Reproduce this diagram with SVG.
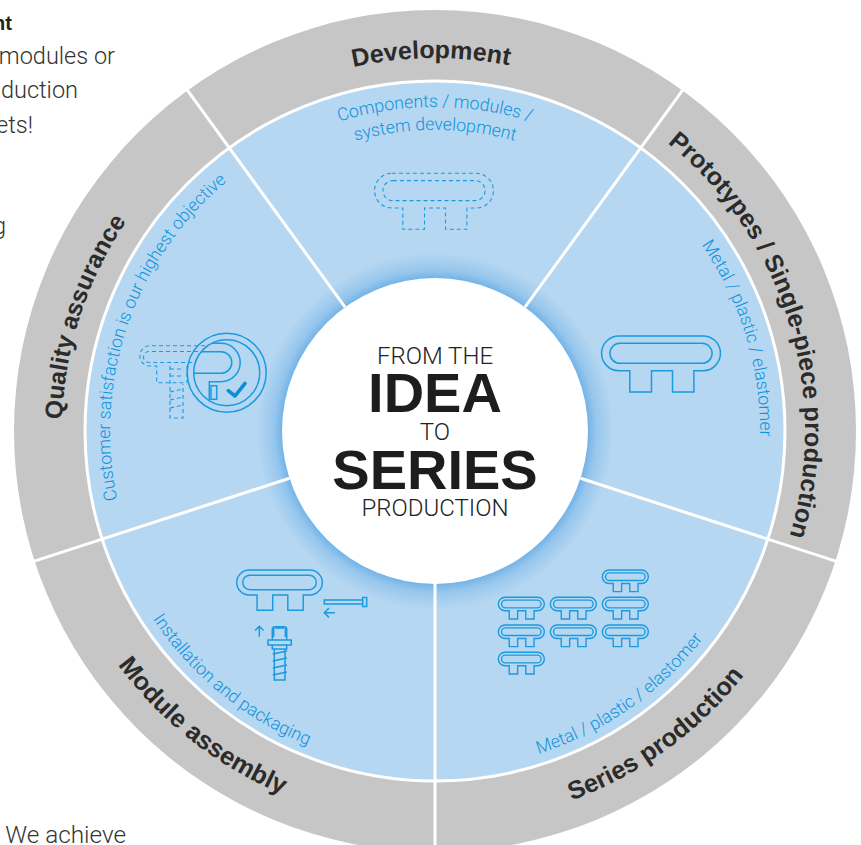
<svg xmlns="http://www.w3.org/2000/svg" xmlns:xlink="http://www.w3.org/1999/xlink" width="861" height="845" viewBox="0 0 861 845">
<style>
.b{font-family:"Liberation Sans",Arial,sans-serif;font-weight:700;font-size:25px;fill:#2b2b2b;text-anchor:middle}
.l{font-family:"Roboto","Liberation Sans",sans-serif;font-weight:300;font-size:17.7px;fill:#0f93de;text-anchor:middle}
.t{font-family:"Roboto","Liberation Sans",sans-serif;font-weight:300;font-size:23.5px;fill:#333}
.c{font-family:"Roboto","Liberation Sans",sans-serif;font-weight:300;font-size:24px;fill:#222;text-anchor:middle}
.h{font-family:"Liberation Sans",Arial,sans-serif;font-weight:700;font-size:56px;fill:#1d1d1b;text-anchor:middle}
.i{fill:none;stroke:#1a9ae0;stroke-width:1.5}
.d{fill:none;stroke:#1a9ae0;stroke-width:1.1;stroke-dasharray:4 3}
.s{stroke:#fff;stroke-width:3;fill:none}
</style>
<defs>
<radialGradient id="glow" gradientUnits="userSpaceOnUse" cx="435" cy="431" r="350">
<stop offset="0.437" stop-color="#74b4e7"/><stop offset="0.46" stop-color="#96c6ed"/><stop offset="0.51" stop-color="#b6d7f1"/><stop offset="1" stop-color="#b6d7f1"/>
</radialGradient>
<path id="cw373" d="M-373 0A373 373 0 0 1 373 0"/>
<path id="cw370" d="M-370 0A370 370 0 0 1 370 0"/>
<path id="ccw394" d="M-394 0A394 394 0 0 0 394 0"/>
<path id="cw324" d="M-324 0A324 324 0 0 1 324 0"/>
<path id="cw301" d="M-301 0A301 301 0 0 1 301 0"/>
<path id="cw325" d="M-325 0A325 325 0 0 1 325 0"/>
<path id="ccw339" d="M-339 0A339 339 0 0 0 339 0"/>
<g id="key">
<path d="M17.4 0H101.6A17.35 17.35 0 0 1 101.6 34.7H92.4V56H71V34.7H50V56H28.3V34.7H17.4A17.35 17.35 0 0 1 17.4 0Z"/>
<path d="M18.4 7.3H100.6A10 10 0 0 1 100.6 27.3H18.4A10 10 0 0 1 18.4 7.3Z"/>
</g>
<clipPath id="lens"><circle cx="226.7" cy="372.7" r="33"/></clipPath>
</defs>
<rect width="861" height="845" fill="#fff"/>
<g id="side-text">
<text x="12" y="30" text-anchor="end" style="font-family:'Liberation Sans',sans-serif;font-weight:700;font-size:20px;fill:#222">nt</text>
<text class="t" x="115" y="64" text-anchor="end">modules or</text>
<text class="t" x="78" y="98" text-anchor="end">duction</text>
<text class="t" x="33" y="133" text-anchor="end">ets!</text>
<text class="t" x="6" y="234" text-anchor="end">g</text>
<text class="t" x="126" y="843" text-anchor="end" style="font-size:24.3px">We achieve</text>
</g>
<circle cx="435" cy="431" r="421" fill="#c6c6c6"/>
<circle cx="435" cy="431" r="350" fill="url(#glow)"/>
<g id="connectors">
<line class="s" x1="435" y1="278" x2="435" y2="0" transform="rotate(36 435 431)"/>
<line class="s" x1="435" y1="278" x2="435" y2="0" transform="rotate(108 435 431)"/>
<line class="s" x1="435" y1="278" x2="435" y2="0" transform="rotate(180 435 431)"/>
<line class="s" x1="435" y1="278" x2="435" y2="0" transform="rotate(252 435 431)"/>
<line class="s" x1="435" y1="278" x2="435" y2="0" transform="rotate(324 435 431)"/>
<circle class="s" cx="435" cy="431" r="350"/>
</g>
<g id="development">
<text class="b" transform="translate(435 431) rotate(-0.6)"><textPath href="#cw373" startOffset="50%">Development</textPath></text>
<text class="l" transform="translate(435 431)"><textPath href="#cw324" startOffset="50%">Components / modules /</textPath></text>
<text class="l" transform="translate(435 431)"><textPath href="#cw301" startOffset="50%">system development</textPath></text>
<use href="#key" class="d" transform="translate(374.5 173.3)"/>
</g>
<g id="prototypes">
<text class="b" transform="translate(435 431) rotate(72.7)"><textPath href="#cw370" startOffset="50%">Prototypes / Single-piece production</textPath></text>
<text class="l" transform="translate(435 431) rotate(73)"><textPath href="#cw325" startOffset="50%">Metal / plastic / elastomer</textPath></text>
<use href="#key" class="i" transform="translate(601.5 336)"/>
</g>
<g id="series-production">
<text class="b" style="font-size:25.4px" transform="translate(435 431) rotate(-36)"><textPath href="#ccw394" startOffset="50%">Series production</textPath></text>
<text class="l" transform="translate(435 431) rotate(-35)"><textPath href="#ccw339" startOffset="50%">Metal / plastic / elastomer</textPath></text>
<g>
<use href="#key" class="i" transform="translate(602.3 570) scale(.387)" style="stroke-width:3.6"/>
<use href="#key" class="i" transform="translate(498.3 597.3) scale(.387)" style="stroke-width:3.6"/>
<use href="#key" class="i" transform="translate(550.3 597.3) scale(.387)" style="stroke-width:3.6"/>
<use href="#key" class="i" transform="translate(602.3 597.3) scale(.387)" style="stroke-width:3.6"/>
<use href="#key" class="i" transform="translate(498.3 625) scale(.387)" style="stroke-width:3.6"/>
<use href="#key" class="i" transform="translate(550.3 625) scale(.387)" style="stroke-width:3.6"/>
<use href="#key" class="i" transform="translate(602.3 625) scale(.387)" style="stroke-width:3.6"/>
<use href="#key" class="i" transform="translate(498.3 652.3) scale(.387)" style="stroke-width:3.6"/>
</g>
</g>
<g id="module-assembly">
<text class="b" style="font-size:25.4px" transform="translate(435 431) rotate(38.2)"><textPath href="#ccw394" startOffset="50%">Module assembly</textPath></text>
<text class="l" transform="translate(435 431) rotate(39.2)"><textPath href="#ccw339" startOffset="50%">Installation and packaging</textPath></text>
<use href="#key" class="i" transform="translate(236.7 570) scale(.72)" style="stroke-width:2"/>
<g class="i">
<path d="M324.3 600H362.7V604H324.3ZM362.7 597.5H366.7V606.5H362.7Z"/>
<path d="M335 612.7H324.3M329 608L324.3 612.7L329 617.4"/>
<path d="M259.3 636.7V626.3M255 630.5L259.3 626.3L263.6 630.5"/>
<path d="M272.3 640V629Q272.3 626.7 275 626.7H284Q286.7 626.7 286.7 629V640M268 640H291.3V645H268ZM272.3 645V649H286.7V645M274.3 649V680H285V649"/>
<path d="M272.8 654L287 651M272.8 661L287 658M272.8 668L287 665M272.8 675L287 672"/>
<path d="M273.2 628V637M285.8 628V637M275 627.5H284" stroke-width="2.4"/>
</g>
</g>
<g id="quality-assurance">
<text class="b" style="font-size:24.5px" transform="translate(435 431) rotate(288)"><textPath href="#cw373" startOffset="50%">Quality assurance</textPath></text>
<text class="l" transform="translate(435 431) rotate(289)"><textPath href="#cw325" startOffset="50%">Customer satisfaction is our highest objective</textPath></text>
<g class="d">
<path d="M205 345.7H149A10.2 10.2 0 0 0 149 366H156.7V382.7H187"/>
<path d="M205 351.5H149A5.5 5.5 0 0 0 149 362.5H196"/>
<path d="M187 366V382.7M170 366V418H183V384M170 369H183M170 376H183M170 392L183 389M170 400L183 397M170 408L183 405"/>
</g>
<g class="i">
<circle cx="226.7" cy="372.7" r="39.5"/>
<circle cx="226.7" cy="372.7" r="33"/>
<g clip-path="url(#lens)">
<path d="M190 343.3H221A19.2 19.2 0 0 1 221 381.7H209.3V402M190 351.7H221A10.8 10.8 0 0 1 221 373.3H190"/>
<rect x="211" y="385.7" width="5.7" height="13.6"/>
</g>
</g>
<path d="M228.3 390.7L235 396L245 383.3" fill="none" stroke="#0a8fd6" stroke-width="3.6" stroke-linecap="round" stroke-linejoin="round"/>
</g>
<g id="center">
<circle cx="435" cy="431" r="153" fill="#fff"/>
<text class="c" x="435" y="364">FROM THE</text>
<text class="h" x="435" y="412">IDEA</text>
<text class="c" x="435" y="440">TO</text>
<text class="h" x="435" y="489">SERIES</text>
<text class="c" x="435" y="516">PRODUCTION</text>
</g>
</svg>
